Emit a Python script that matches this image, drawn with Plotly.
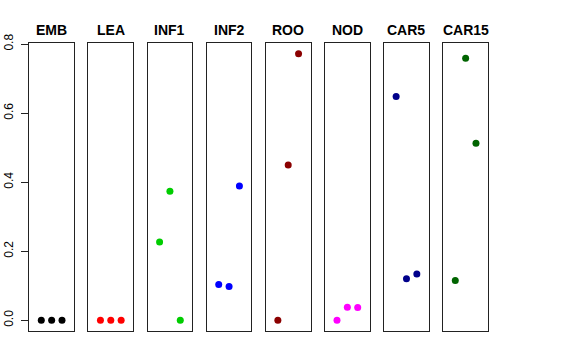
import plotly.graph_objects as go

tissues = ["EMB", "LEA", "INF1", "INF2", "ROO", "NOD", "CAR5", "CAR15"]
colors = ["#000000", "#FF0000", "#00CD00", "#0000FF", "#8B0000", "#FF00FF", "#00008B", "#006400"]
x_pos = [1, 2, 3]
emb = [0.0, 0.0, 0.0]
lea = [0.0, 0.0, 0.0]
inf1 = [0.227, 0.374, 0.0]
inf2 = [0.104, 0.098, 0.389]
roo = [0.0, 0.450, 0.772]
nod = [0.0, 0.038, 0.037]
car5 = [0.648, 0.120, 0.134]
car15 = [0.115, 0.759, 0.513]
values = [emb, lea, inf1, inf2, roo, nod, car5, car15]

tick_vals = [0.0, 0.2, 0.4, 0.6, 0.8]
tick_text = ["0.0", "0.2", "0.4", "0.6", "0.8"]

W, H = 576, 360
left0, pw, step = 29.3, 44.7, 59.14
top_px, bot_px = 43, 331

fig = go.Figure()
layout = dict(
    width=W, height=H, margin=dict(l=0, r=0, t=0, b=0, autoexpand=False),
    paper_bgcolor="white", plot_bgcolor="white", showlegend=False,
    font=dict(family="Liberation Sans, Arial, sans-serif", color="black"),
)
annotations = []
for i, (name, col, vals) in enumerate(zip(tissues, colors, values)):
    n = i + 1
    xa = "x" if n == 1 else f"x{n}"
    ya = "y" if n == 1 else f"y{n}"
    fig.add_trace(go.Scatter(x=x_pos, y=vals, mode="markers",
                             marker=dict(color=col, size=7, line=dict(width=0)),
                             xaxis=xa, yaxis=ya, hoverinfo="skip"))
    l = left0 + i * step
    r = l + pw
    layout["xaxis" if n == 1 else f"xaxis{n}"] = dict(
        domain=[l / W, r / W], range=[-0.16, 4.16], showgrid=False, zeroline=False,
        showticklabels=False, ticks="", showline=True, mirror=True, automargin=False,
        linecolor="#222222", linewidth=1, anchor=ya, fixedrange=True)
    yd = dict(domain=[1 - bot_px / H, 1 - top_px / H], range=[-0.031, 0.803],
              showgrid=False, zeroline=False, showline=True, mirror=True, automargin=False,
              linecolor="#222222", linewidth=1, anchor=xa, fixedrange=True)
    if n == 1:
        yd.update(tickvals=tick_vals, ticktext=tick_text, ticks="outside",
                  ticklen=7, tickcolor="#222222", tickwidth=1, tickangle=-90,
                  ticklabelstandoff=4,
                  showticklabels=True, tickfont=dict(size=12, color="black"))
    else:
        yd.update(showticklabels=False, ticks="")
    layout["yaxis" if n == 1 else f"yaxis{n}"] = yd
    annotations.append(dict(text=f"<b>{name}</b>", x=(l + r) / 2 / W, y=1 - 29.7 / H,
                            xref="paper", yref="paper", xanchor="center", yanchor="middle",
                            showarrow=False, font=dict(size=14, color="black")))
layout["annotations"] = annotations
fig.update_layout(**layout)
fig.write_html("out.html", config={"displayModeBar": False},
               post_script="document.body.style.margin='0px';document.body.style.overflow='hidden';")
